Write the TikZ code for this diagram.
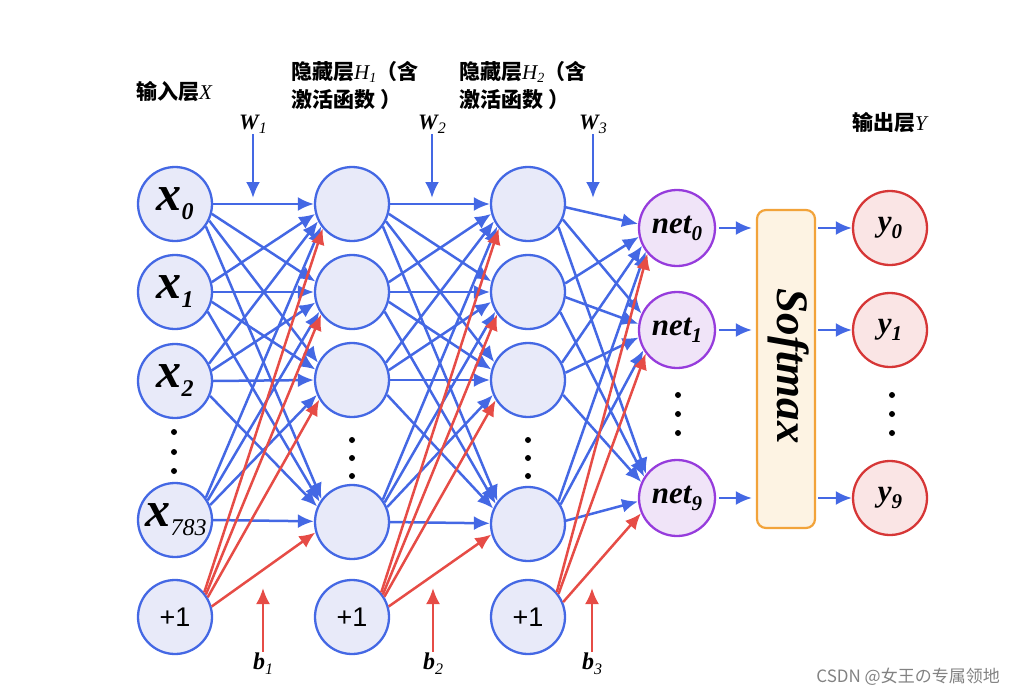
\documentclass[tikz,border=0pt]{standalone}
\usepackage{fontspec}
\setmainfont{Liberation Serif}
\newfontfamily\cjk{Noto Sans CJK SC}
\newfontfamily\plainsans{Liberation Sans}
\usetikzlibrary{arrows.meta,calc}
\definecolor{nblue}{RGB}{68,104,228}
\definecolor{nfill}{RGB}{232,234,249}
\definecolor{npurple}{RGB}{150,60,220}
\definecolor{npfill}{RGB}{240,228,248}
\definecolor{nred}{RGB}{214,54,54}
\definecolor{nrfill}{RGB}{250,229,229}
\definecolor{ared}{RGB}{230,76,70}
\definecolor{sorange}{RGB}{242,163,58}
\definecolor{sfill}{RGB}{253,243,227}
\definecolor{wmgray}{RGB}{130,130,130}
\newcommand\mysubx[1]{{\fontsize{50}{50}\selectfont\bfseries\itshape x}\raisebox{-9pt}{\fontsize{24}{24}\selectfont\bfseries\itshape #1}}
\newcommand\mysubnet[1]{{\fontsize{31}{31}\selectfont\bfseries\itshape net}\raisebox{-7pt}{\fontsize{21}{21}\selectfont\bfseries\itshape #1}}
\newcommand\mysuby[1]{{\fontsize{31}{31}\selectfont\bfseries\itshape y}\raisebox{-7pt}{\fontsize{21}{21}\selectfont\bfseries\itshape #1}}
\newcommand\mysubw[1]{{\fontsize{22}{22}\selectfont\bfseries\itshape W}\raisebox{-4pt}{\fontsize{16}{16}\selectfont\itshape #1}}
\newcommand\mysubb[1]{{\fontsize{24}{24}\selectfont\bfseries\itshape b}\raisebox{-5pt}{\fontsize{16}{16}\selectfont\itshape #1}}
% connector from node #1 to node #2 with style #3, ends pulled toward east/west points
\newcommand\myconn[3]{%
  \draw[#3] let \p1=($(#2)-(#1)$), \n1={0.6*atan2(\y1,\x1)}, \n2={180+0.6*atan2(\y1,\x1)} in
    (#1.\n1) -- (#2.\n2);%
}
\begin{document}
\begin{tikzpicture}[x=1pt,y=-1pt,
  neuron/.style={circle, draw=nblue, fill=nfill, line width=2.3pt, minimum size=74pt, inner sep=0pt},
  netnode/.style={neuron, draw=npurple, fill=npfill, minimum size=76pt},
  outnode/.style={neuron, draw=nred, fill=nrfill},
  barrow/.style={draw=nblue, line width=2.5pt, -{Latex[length=16pt,width=14pt]}},
  rarrow/.style={draw=ared, line width=2.5pt, -{Latex[length=16pt,width=14pt]}},
  dotmark/.style={fill=black},
  cjklabel/.style={font=\cjk\bfseries\fontsize{21}{28}\selectfont, inner sep=0pt, align=left},
  plusone/.style={font=\plainsans\fontsize{27}{27}\selectfont}
]
\useasboundingbox (0,0) rectangle (1014,696);

% input layer
\node[neuron] (i0) at (175,204) {\mysubx{0}};
\node[neuron] (i1) at (175,292) {\mysubx{1}};
\node[neuron] (i2) at (175,381) {\mysubx{2}};
\node[neuron] (i3) at (175,520) {\hspace*{2pt}\mysubx{\mdseries 783}};
\node[neuron, plusone] (ib) at (175,617) {+1};
% hidden 1
\node[neuron] (a0) at (352,204) {};
\node[neuron] (a1) at (352,292) {};
\node[neuron] (a2) at (352,380) {};
\node[neuron] (a3) at (352,522) {};
\node[neuron, plusone] (ab) at (352,617) {+1};
% hidden 2
\node[neuron] (c0) at (528,204) {};
\node[neuron] (c1) at (528,292) {};
\node[neuron] (c2) at (528,380) {};
\node[neuron] (c3) at (528,524) {};
\node[neuron, plusone] (cb) at (528,617) {+1};
% net
\node[netnode] (n0) at (677,228) {\mysubnet{0}};
\node[netnode] (n1) at (677,330) {\mysubnet{1}};
\node[netnode] (n9) at (677,498) {\mysubnet{9}};
% softmax
\node[draw=sorange, fill=sfill, line width=2.2pt, rounded corners=9pt,
      minimum width=58pt, minimum height=318pt, inner sep=0pt] (sm) at (786,369) {};
\node[rotate=-90, font=\fontsize{45}{45}\selectfont\bfseries\itshape] (smtext) at (789,366) {Softmax};
% outputs
\node[outnode] (y0) at (890,228) {\mysuby{0}};
\node[outnode] (y1) at (890,330) {\mysuby{1}};
\node[outnode] (y9) at (890,498) {\mysuby{9}};

% dots
\foreach \x/\ya/\yb/\yc in {174/432/452/471, 352/440/458/476, 528/440/458/476, 678/395/414/433, 892/395/414/433}{
  \fill[dotmark] (\x,\ya) circle (3pt);
  \fill[dotmark] (\x,\yb) circle (3pt);
  \fill[dotmark] (\x,\yc) circle (3pt);
}

% blue connections
\foreach \s in {i0,i1,i2,i3}{
  \foreach \t in {a0,a1,a2,a3}{
    \myconn{\s}{\t}{barrow}
  }
}
\foreach \s in {a0,a1,a2,a3}{
  \foreach \t in {c0,c1,c2,c3}{
    \myconn{\s}{\t}{barrow}
  }
}
\foreach \s in {c0,c1,c2,c3}{
  \foreach \t in {n0,n1,n9}{
    \myconn{\s}{\t}{barrow}
  }
}
% red bias connections
\foreach \t in {a0,a1,a2,a3}{ \myconn{ib}{\t}{rarrow} }
\foreach \t in {c0,c1,c2,c3}{ \myconn{ab}{\t}{rarrow} }
\foreach \t in {n0,n1,n9}{ \myconn{cb}{\t}{rarrow} }

% net -> softmax -> y
\foreach \n/\y in {n0/y0, n1/y1, n9/y9}{
  \draw[barrow, shorten <=3pt, shorten >=4pt] (\n) -- (\n -| sm.west);
  \draw[barrow, shorten <=2pt] (sm.east |- \y) -- (\y);
}

% weight labels and arrows
\foreach \k/\x in {1/253, 2/432, 3/593}{
  \node (w\k) at (\x,124) {\mysubw{\k}};
  \coordinate (wt\k) at (\x,134);
  \coordinate (wh\k) at (\x,198);
  \draw[barrow] (wt\k) -- (wh\k);
}
% bias labels and arrows
\foreach \k/\x in {1/263, 2/433, 3/592}{
  \node (b\k) at (\x,664) {\mysubb{\k}};
  \coordinate (bt\k) at (\x,652);
  \coordinate (bh\k) at (\x,588);
  \draw[rarrow] (bt\k) -- (bh\k);
}

% layer titles
\node[cjklabel, anchor=west] (lx) at (136,92) {输入层{\rmfamily\mdseries\itshape X}};
\node[cjklabel, anchor=north west] (lh1) at (291,61) {隐藏层{\rmfamily\mdseries\itshape H\raisebox{-3pt}{\fontsize{14}{14}\selectfont 1}}（含\\激活函数 ）};
\node[cjklabel, anchor=north west] (lh2) at (459,61) {隐藏层{\rmfamily\mdseries\itshape H\raisebox{-3pt}{\fontsize{14}{14}\selectfont 2}}（含\\激活函数 ）};
\node[cjklabel, anchor=west] (ly) at (852,123) {输出层{\rmfamily\mdseries\itshape Y}};

% watermark
\node[font=\cjk\fontsize{17}{17}\selectfont, text=wmgray, anchor=east, inner sep=0pt] (wm) at (1000,677) {CSDN @女王の专属领地};
\end{tikzpicture}
\end{document}
